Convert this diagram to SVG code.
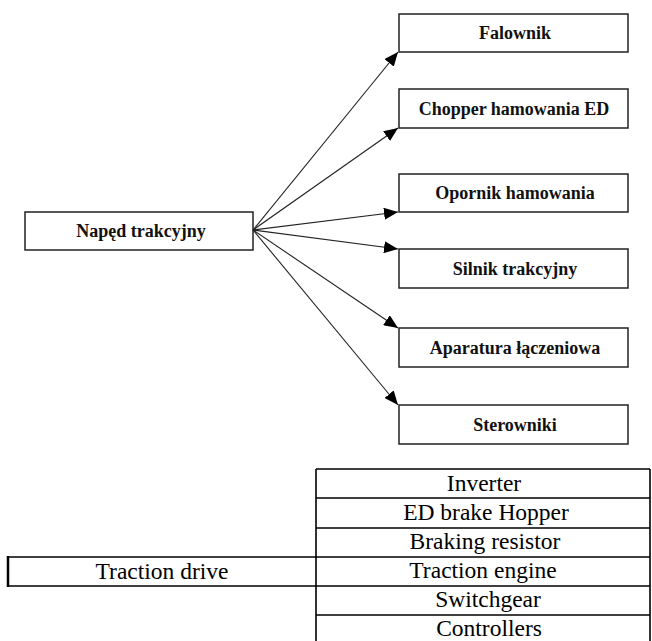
<svg xmlns="http://www.w3.org/2000/svg" width="652" height="641" viewBox="0 0 652 641">
<style>
.box{fill:#fff;stroke:#222;stroke-width:1.5}
.bt{font-family:"Liberation Serif","Times New Roman",serif;font-weight:bold;font-size:18px;fill:#111;text-anchor:middle}
.tt{font-family:"Liberation Serif","Times New Roman",serif;font-size:23.5px;fill:#000;text-anchor:middle}
.conn line{stroke:#222;stroke-width:1.1;marker-end:url(#ah)}
.tl{stroke:#000;stroke-width:1.6;fill:none}
</style>
<defs>
<marker id="ah" viewBox="0 0 14 12" refX="14" refY="6" markerWidth="14" markerHeight="12" markerUnits="userSpaceOnUse" orient="auto">
<path d="M0,0 L14,6 L0,12 z" fill="#000"/>
</marker>
</defs>
<rect width="652" height="641" fill="#fff"/>
<g id="naped"><rect class="box" x="25" y="212" width="228" height="38"/><text class="bt" x="141" y="237">Napęd trakcyjny</text></g>
<g id="falownik"><rect class="box" x="399" y="14" width="229" height="38"/><text class="bt" x="515" y="39">Falownik</text></g>
<g id="chopper"><rect class="box" x="399" y="89" width="229" height="39"/><text class="bt" x="514" y="115">Chopper hamowania ED</text></g>
<g id="opornik"><rect class="box" x="399" y="174" width="229" height="38"/><text class="bt" x="515" y="199">Opornik hamowania</text></g>
<g id="silnik"><rect class="box" x="399" y="249" width="229" height="39"/><text class="bt" x="515" y="275">Silnik trakcyjny</text></g>
<g id="aparatura"><rect class="box" x="399" y="328" width="229" height="39"/><text class="bt" x="515" y="354">Aparatura łączeniowa</text></g>
<g id="sterowniki"><rect class="box" x="399" y="405" width="229" height="39"/><text class="bt" x="515" y="431">Sterowniki</text></g>
<g id="connectors" class="conn">
<line x1="253" y1="230" x2="398" y2="52"/>
<line x1="253" y1="230" x2="398" y2="128"/>
<line x1="253" y1="230" x2="398" y2="212"/>
<line x1="253" y1="230" x2="398" y2="249"/>
<line x1="253" y1="230" x2="398" y2="328"/>
<line x1="253" y1="230" x2="398" y2="405"/>
</g>
<g id="table">
<path class="tl" d="M316,469 V641 M650,469 V641 M316,469 H650 M316,498 H650 M316,528 H650 M316,557 H650 M316,586 H650 M316,615 H650"/>
<g id="traction-drive"><path class="tl" d="M8,557 H316 M8,586 H316"/><path d="M8,556 V587" stroke="#000" stroke-width="2.5"/><text class="tt" x="162" y="579">Traction drive</text></g>
<text class="tt" x="484" y="491">Inverter</text>
<text class="tt" x="486" y="520">ED brake Hopper</text>
<text class="tt" x="485" y="549">Braking resistor</text>
<text class="tt" x="483" y="578">Traction engine</text>
<text class="tt" x="488" y="607">Switchgear</text>
<text class="tt" x="489" y="636">Controllers</text>
</g>
</svg>
